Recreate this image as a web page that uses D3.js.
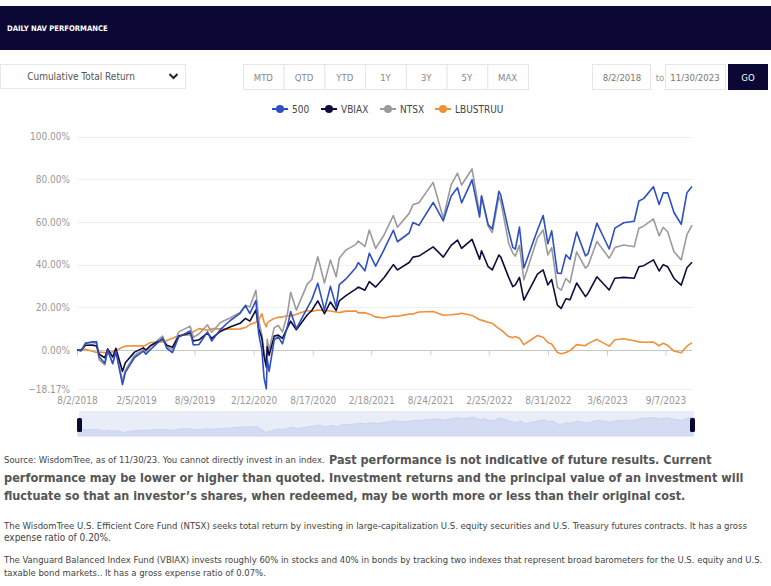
<!DOCTYPE html>
<html><head><meta charset="utf-8">
<script src="https://cdn.jsdelivr.net/npm/d3@7/dist/d3.min.js"></script>
<style>
body{margin:0;background:#fff}
svg{display:block}
text{font-family:"Liberation Sans Narrow","DejaVu Sans Condensed",Lato,sans-serif}
</style>
</head><body>
<svg id="chart" width="771" height="586"></svg>
<script>
// ---------- DATA ----------
const dates = ["2018-08-02","2018-08-15","2018-08-29","2018-09-20","2018-10-03","2018-10-11","2018-10-29","2018-11-07","2018-11-23","2018-12-03",
"2018-12-24","2019-01-02","2019-01-31","2019-02-28","2019-03-08","2019-03-22","2019-04-30","2019-05-13","2019-05-31","2019-06-20",
"2019-07-26","2019-08-05","2019-08-23","2019-09-19","2019-10-02","2019-10-31","2019-11-29","2019-12-31","2020-01-17","2020-01-31",
"2020-02-19","2020-02-28","2020-03-09","2020-03-16","2020-03-23","2020-03-26","2020-04-01","2020-04-17","2020-04-30","2020-05-13",
"2020-05-29","2020-06-08","2020-06-26","2020-07-31","2020-08-14","2020-09-02","2020-09-23","2020-10-12","2020-10-30","2020-11-09",
"2020-11-30","2020-12-31","2021-01-08","2021-01-29","2021-02-12","2021-03-04","2021-03-31","2021-04-29","2021-05-12","2021-06-18",
"2021-06-30","2021-07-19","2021-09-02","2021-10-04","2021-10-29","2021-11-18","2021-12-01","2022-01-03","2022-01-27","2022-02-02",
"2022-02-23","2022-03-08","2022-03-29","2022-04-04","2022-04-29","2022-05-12","2022-05-20","2022-06-02","2022-06-16","2022-07-29",
"2022-08-16","2022-08-31","2022-09-12","2022-09-30","2022-10-12","2022-10-27","2022-11-09","2022-11-30","2022-12-28","2023-01-05",
"2023-02-02","2023-03-13","2023-03-31","2023-04-28","2023-05-31","2023-06-15","2023-06-30","2023-07-31","2023-08-18","2023-08-31",
"2023-09-14","2023-10-04","2023-10-27","2023-11-14","2023-11-30"];

const sp500 = [0,-0.3,3.1,3.9,3.8,-3.2,-6.2,0.0,-6.3,-0.7,
-16.2,-10.5,-3.5,-0.5,-2.0,0.2,5.6,0.8,-1.2,6.1,
8.9,2.4,2.6,8.5,4.2,9.8,13.7,17.2,20.8,17.1,
23.1,7.4,-0.1,-13.2,-18.17,-4.3,-10.0,4.8,6.2,2.9,
11.1,18.0,10.0,19.7,23.6,31.3,18.8,29.8,20.2,30.6,
33.3,38.5,41.0,37.1,45.3,39.3,47.1,56.1,50.7,54.8,
59.7,58.4,69.1,60.5,72.1,76.0,68.9,79.7,62.3,72.2,
58.7,56.7,74.3,72.5,55.7,48.1,47.2,57.6,38.4,56.2,
63.0,49.8,55.8,36.0,35.8,44.6,42.5,55.2,44.1,45.1,
59.4,47.3,57.1,59.6,60.3,69.8,70.9,76.5,68.2,73.6,
73.6,64.4,58.9,73.7,76.6];

const vbiax = [0,-0.1,2.2,2.3,1.9,-2.0,-3.6,0.5,-3.3,0.8,
-10.0,-6.0,-1.0,1.0,0.0,2.0,5.0,2.2,1.3,6.5,
8.0,4.2,4.8,8.0,5.5,8.8,10.8,12.5,14.8,13.5,
18.7,10.0,5.5,-3.0,-8.0,1.5,-2.5,6.5,7.0,5.5,
10.5,13.5,9.5,16.5,18.5,23.0,17.0,22.5,18.5,23.0,
25.5,28.5,29.5,28.0,32.0,29.5,34.0,40.0,37.5,41.0,
43.5,44.0,48.3,43.5,49.0,51.5,47.6,51.8,42.5,46.5,
39.0,37.5,44.5,43.5,34.0,29.7,30.5,34.0,23.4,35.5,
37.5,30.5,33.0,21.0,19.5,24.0,23.5,31.4,25.0,26.5,
34.3,28.1,33.6,34.0,33.6,39.0,39.5,42.2,37.0,40.0,
39.0,33.5,30.4,38.5,41.1];

const ntsx = [0,-0.5,3.4,3.5,3.0,-4.5,-7.0,-0.5,-6.5,-0.3,
-14.5,-9.5,-2.5,0.2,-1.0,1.8,6.5,1.5,0.0,8.5,
11.2,6.0,7.5,11.8,8.3,13.0,15.0,17.6,21.0,20.2,
28.0,14.0,7.0,-1.0,-6.5,5.0,0.0,10.5,11.5,8.5,
17.0,27.0,18.7,31.0,33.0,43.7,31.4,42.2,34.3,43.0,
46.8,49.5,51.0,48.5,56.2,47.6,54.0,63.0,57.5,64.0,
68.0,69.0,78.5,61.7,77.5,82.8,77.3,84.8,64.0,72.0,
58.0,55.0,71.8,69.5,50.0,45.3,44.0,49.0,32.8,52.5,
56.2,44.5,48.0,29.5,28.0,33.5,31.5,46.0,38.3,39.5,
50.8,43.0,48.0,49.2,48.4,57.0,58.0,61.4,53.5,57.5,
55.4,46.0,42.2,54.0,58.5];

const lbustruu = [0,0.2,0.3,-0.6,-1.2,-1.0,-1.2,-1.5,-0.8,-0.2,
1.3,1.8,2.0,1.8,2.3,3.5,3.8,4.5,5.5,6.8,
7.0,8.5,10.0,9.3,10.0,9.9,9.8,9.9,10.5,11.9,
13.0,14.0,17.0,13.0,10.8,12.5,13.5,14.8,15.3,15.5,
16.2,15.8,16.8,18.5,18.0,18.7,18.5,18.3,17.8,17.5,
18.2,18.3,17.4,17.5,16.8,15.5,15.0,15.9,15.8,16.8,
16.9,17.8,18.0,16.3,16.5,16.8,17.2,16.2,14.2,14.0,
13.0,12.5,10.0,9.5,6.3,5.8,6.3,5.5,2.5,6.8,
6.0,3.5,2.8,-1.2,-1.8,-1.2,-0.3,2.5,2.0,3.0,
5.0,1.8,4.8,5.3,4.3,3.8,3.6,3.7,2.0,3.2,
2.2,-0.5,-1.3,1.8,3.5];

const seriesNames = ["500","VBIAX","NTSX","LBUSTRUU"];
const seriesColors = ["#2f4fc4","#0e0b3d","#9b9b9b","#f0913a"];
const yTickValues = [-18.17,0,20,40,60,80,100];
const xTickLabels = ["8/2/2018","2/5/2019","8/9/2019","2/12/2020","8/17/2020","2/18/2021","8/24/2021","2/25/2022","8/31/2022","3/6/2023","9/7/2023"];
const rangeButtons = ["MTD","QTD","YTD","1Y","3Y","5Y","MAX"];
const startDateLabel = "8/2/2018";
const endDateLabel = "11/30/2023";

// ---------- SETUP ----------
const svg = d3.select("#chart");
const parse = d3.timeParse("%Y-%m-%d");
const parseTick = d3.timeParse("%m/%d/%Y");
const D = dates.map(parse);
const allSeries = [sp500, vbiax, ntsx, lbustruu];

const x = d3.scaleTime().domain([parse("2018-08-02"), parse("2023-11-30")]).range([77, 692]);
const y = d3.scaleLinear().domain([-18.17, 100]).range([388.8, 136.5]);

svg.append("rect").attr("width",771).attr("height",586).attr("fill","#fff");

// text that is sized to fit a target width
function fitText(xp, yp, s, size, bold, len, color){
  const t = svg.append("text").attr("x",xp).attr("y",yp).attr("font-size",size)
    .attr("font-weight",bold?"bold":"normal").attr("fill",color).text(s);
  const w = t.node().getComputedTextLength();
  if (w > 0) t.attr("font-size", size * len / w);
  return t;
}

// header bar
svg.append("rect").attr("x",0).attr("y",6).attr("width",771).attr("height",44).attr("fill","#0b0836");
fitText(7,31,"DAILY NAV PERFORMANCE",10,true,101,"#fff");

// dropdown
svg.append("rect").attr("x",0.5).attr("y",64.5).attr("width",185).attr("height",24).attr("fill","#fff").attr("stroke","#e6e6e6");
svg.append("text").attr("x",81).attr("y",80).attr("text-anchor","middle").attr("font-size",10).attr("fill","#555").text("Cumulative Total Return");
svg.append("path").attr("d","M169.5,74 L173.5,78 L177.5,74").attr("fill","none").attr("stroke","#222").attr("stroke-width",2);

// range buttons
const bw = (528-243)/rangeButtons.length;
rangeButtons.forEach((b,i)=>{
  svg.append("rect").attr("x",243.5+i*bw).attr("y",64.5).attr("width",bw).attr("height",25).attr("fill","#fff").attr("stroke","#e6e6e6");
  svg.append("text").attr("x",243+i*bw+bw/2).attr("y",81).attr("text-anchor","middle").attr("font-size",9.5).attr("fill","#888").text(b);
});

// date inputs
svg.append("rect").attr("x",592.5).attr("y",64.5).attr("width",58).attr("height",25).attr("fill","#fff").attr("stroke","#e6e6e6");
svg.append("text").attr("x",622).attr("y",81).attr("text-anchor","middle").attr("font-size",9.5).attr("fill","#777").text(startDateLabel);
svg.append("text").attr("x",660).attr("y",81).attr("text-anchor","middle").attr("font-size",9.5).attr("fill","#999").text("to");
svg.append("rect").attr("x",665.5).attr("y",64.5).attr("width",60).attr("height",25).attr("fill","#fff").attr("stroke","#e6e6e6");
svg.append("text").attr("x",695).attr("y",81).attr("text-anchor","middle").attr("font-size",9.5).attr("fill","#777").text(endDateLabel);
svg.append("rect").attr("x",728).attr("y",64).attr("width",40).attr("height",26).attr("fill","#0b0836");
svg.append("text").attr("x",748).attr("y",81).attr("text-anchor","middle").attr("font-size",9.5).attr("fill","#fff").text("GO");

// legend
const legendX = [272, 321, 380, 435];
seriesNames.forEach((n,i)=>{
  const lx = legendX[i];
  const g = svg.append("g");
  g.append("line").attr("x1",lx).attr("x2",lx+16).attr("y1",109).attr("y2",109).attr("stroke",seriesColors[i]).attr("stroke-width",2);
  g.append("circle").attr("cx",lx+8).attr("cy",109).attr("r",4).attr("fill",seriesColors[i]);
  g.append("text").attr("x",lx+20).attr("y",112.5).attr("font-size",10).attr("fill","#444").text(n);
});

// gridlines
yTickValues.forEach(v=>{
  svg.append("line").attr("x1",78).attr("x2",692).attr("y1",Math.round(y(v))+0.5).attr("y2",Math.round(y(v))+0.5)
    .attr("stroke", v===0 ? "#c6c6c6" : "#eeeeee").attr("stroke-width",1);
});

// y axis labels
const yAxis = d3.axisLeft(y).tickValues(yTickValues).tickSize(0).tickFormat(d=>d3.format(".2f")(d)+"%");
const gy = svg.append("g").attr("transform","translate(73,0)").call(yAxis);
gy.select(".domain").remove();
gy.selectAll("text").attr("font-size",10).attr("fill","#999").attr("font-family",null);

// x axis (ticks on zero line, labels below)
const xTicks = xTickLabels.map(s=>parseTick(s));
const xAxis = d3.axisBottom(x).tickValues(xTicks).tickSize(5).tickFormat((d,i)=>xTickLabels[i]);
const gx = svg.append("g").attr("transform",`translate(0,${Math.round(y(0))+0.5})`).call(xAxis);
gx.select(".domain").remove();
gx.selectAll(".tick line").attr("stroke","#cccccc");
gx.selectAll("text").attr("font-size",10).attr("fill","#999").attr("font-family",null).attr("y",46);

// series lines
const line = d3.line().x((d,i)=>x(D[i])).y(d=>y(d));
const order = [3,2,1,0];
order.forEach(i=>{
  svg.append("path").datum(allSeries[i]).attr("d",line).attr("fill","none")
    .attr("stroke",seriesColors[i]).attr("stroke-width",1.6).attr("stroke-linejoin","round");
});

// navigator
svg.append("rect").attr("x",79).attr("y",411).attr("width",615).attr("height",25).attr("fill","#e9edf8");
const ny = d3.scaleLinear().domain(d3.extent(sp500)).range([433,417]);
const navArea = d3.area().x((d,i)=>x(D[i])+1).y0(436).y1(d=>ny(d));
svg.append("path").datum(sp500).attr("d",navArea).attr("fill","#d3dcf3").attr("stroke","#c4d0ef").attr("stroke-width",0.8);
svg.append("rect").attr("x",77).attr("y",418).attr("width",5).attr("height",14).attr("rx",1.5).attr("fill","#0b0836");
svg.append("rect").attr("x",690).attr("y",418).attr("width",5).attr("height",14).attr("rx",1.5).attr("fill","#0b0836");

// footnotes
fitText(4,463,"Source: WisdomTree, as of 11/30/23. You cannot directly invest in an index.",10,false,321,"#444");
fitText(329,464,"Past performance is not indicative of future results. Current",15,true,383,"#555");
fitText(4,482,"performance may be lower or higher than quoted. Investment returns and the principal value of an investment will",15,true,740,"#555");
fitText(4,500,"fluctuate so that an investor’s shares, when redeemed, may be worth more or less than their original cost.",15,true,682,"#555");
fitText(4,529,"The WisdomTree U.S. Efficient Core Fund (NTSX) seeks total return by investing in large-capitalization U.S. equity securities and U.S. Treasury futures contracts. It has a gross",10,false,743,"#444");
fitText(4,541,"expense ratio of 0.20%.",10,false,107,"#444");
fitText(4,563,"The Vanguard Balanced Index Fund (VBIAX) invests roughly 60% in stocks and 40% in bonds by tracking two indexes that represent broad barometers for the U.S. equity and U.S.",10,false,759,"#444");
fitText(4,576,"taxable bond markets.. It has a gross expense ratio of 0.07%.",10,false,262,"#444");
</script>
</body></html>
